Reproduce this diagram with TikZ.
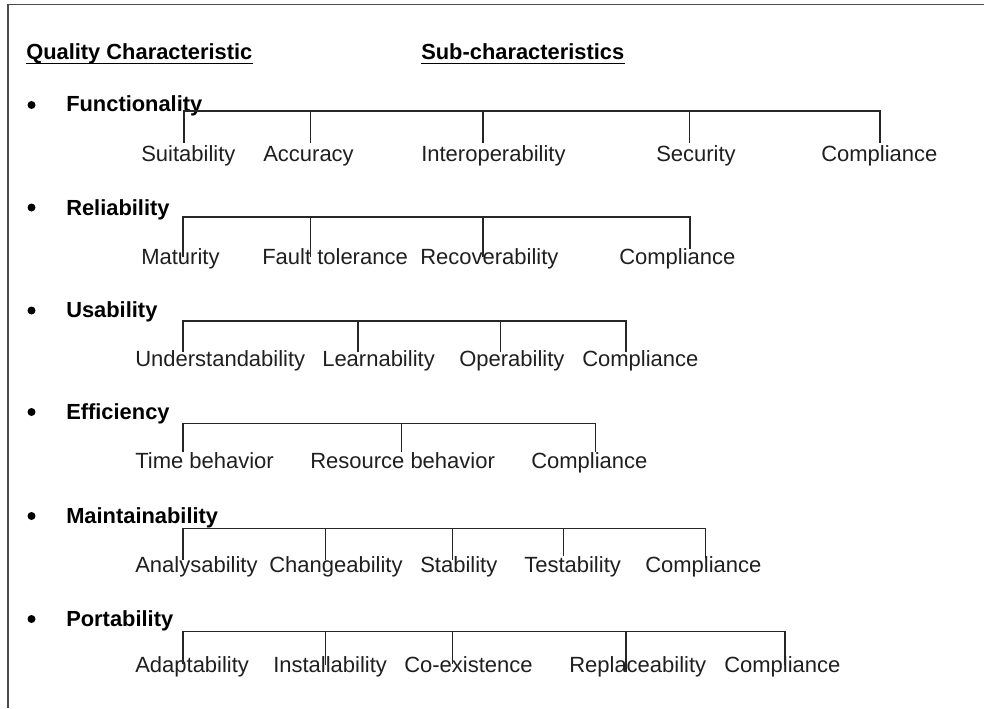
\documentclass[tikz,border=0pt]{standalone}
\usepackage{fontspec}
\setmainfont{Liberation Sans}
\begin{document}
\begin{tikzpicture}[x=0.75pt,y=-0.75pt,
  lab/.style={anchor=base west, inner sep=0pt, font=\fontsize{16.4}{19}\selectfont\bfseries},
  subc/.style={anchor=base west, inner sep=0pt, font=\fontsize{16.5}{19}\selectfont, text=black!88},
  br/.style={draw=black!85, line width=0.8pt},
  ul/.style={draw=black, line width=1.2pt},
  bul/.style={fill=black}]
\useasboundingbox (0,0) rectangle (984,708);
\draw[black!70, line width=1.2pt] (8,708) -- (8,4.5) -- (984,4.5);
% headers
\node[lab] (qc) at (26,59.5) {Quality Characteristic};
\node[lab] (sc) at (421,59.5) {Sub-characteristics};
\draw[ul] ([yshift=-3pt]qc.base west) -- ([yshift=-3pt]qc.base east);
\draw[ul] ([yshift=-3pt]sc.base west) -- ([yshift=-3pt]sc.base east);
% ---------- Row 1
\fill[bul] (31.5,105) circle[radius=3pt];
\node[lab] (f) at (66,111.5) {Functionality};
\node[subc] (f1) at (141,161.5) {Suitability};
\node[subc] (f2) at (263,161.5) {Accuracy};
\node[subc] (f3) at (421,161.5) {Interoperability};
\node[subc] (f4) at (656,161.5) {Security};
\node[subc] (f5) at (821,161.5) {Compliance};
\draw[br] (184,143) -- (184,111) -- (880,111) -- (880,143);
\draw[br] (310.7,111) -- (310.7,143);
\draw[br] (483,111) -- (483,143);
\draw[br] (689.7,111) -- (689.7,143);
% ---------- Row 2
\fill[bul] (31.5,207.5) circle[radius=3pt];
\node[lab] (r) at (66,215.5) {Reliability};
\node[subc] (r1) at (141,264.5) {Maturity};
\node[subc] (r2) at (262,264.5) {Fault tolerance};
\node[subc] (r3) at (420,264.5) {Recoverability};
\node[subc] (r4) at (619,264.5) {Compliance};
\draw[br] (183,257) -- (183,217) -- (690,217) -- (690,249);
\draw[br] (310.7,217) -- (310.7,257);
\draw[br] (483,217) -- (483,257);
% ---------- Row 3
\fill[bul] (31.5,310.5) circle[radius=3pt];
\node[lab] (u) at (66,317.5) {Usability};
\node[subc] (u1) at (135,366) {Understandability};
\node[subc] (u2) at (322,366) {Learnability};
\node[subc] (u3) at (459,366) {Operability};
\node[subc] (u4) at (582,366) {Compliance};
\draw[br] (183,352) -- (183,321) -- (626,321) -- (626,352);
\draw[br] (358,321) -- (358,352);
\draw[br] (500.7,321) -- (500.7,352);
% ---------- Row 4
\fill[bul] (31.5,412) circle[radius=3pt];
\node[lab] (e) at (66,419) {Efficiency};
\node[subc] (e1) at (135,468) {Time behavior};
\node[subc] (e2) at (310,468) {Resource behavior};
\node[subc] (e3) at (531,468) {Compliance};
\draw[br] (183,452) -- (183,423.3) -- (595.7,423.3) -- (595.7,452);
\draw[br] (401.7,423.3) -- (401.7,452);
% ---------- Row 5
\fill[bul] (31.5,516) circle[radius=3pt];
\node[lab] (m) at (66,523) {Maintainability};
\node[subc] (m1) at (135,572.5) {Analysability};
\node[subc] (m2) at (269,572.5) {Changeability};
\node[subc] (m3) at (420,572.5) {Stability};
\node[subc] (m4) at (524,572.5) {Testability};
\node[subc] (m5) at (645,572.5) {Compliance};
\draw[br] (183,560) -- (183,528.3) -- (705.7,528.3) -- (705.7,558);
\draw[br] (325.7,528.3) -- (325.7,560);
\draw[br] (452.7,528.3) -- (452.7,560);
\draw[br] (563.3,528.3) -- (563.3,556);
% ---------- Row 6
\fill[bul] (31.5,619) circle[radius=3pt];
\node[lab] (p) at (66,626) {Portability};
\node[subc] (p1) at (135,672.5) {Adaptability};
\node[subc] (p2) at (273,672.5) {Installability};
\node[subc] (p3) at (404,672.5) {Co-existence};
\node[subc] (p4) at (569,672.5) {Replaceability};
\node[subc] (p5) at (724,672.5) {Compliance};
\draw[br] (183,664) -- (183,631.7) -- (785,631.7) -- (785,665);
\draw[br] (325.7,631.7) -- (325.7,665);
\draw[br] (452.7,631.7) -- (452.7,664);
\draw[br] (626,631.7) -- (626,672);
\end{tikzpicture}
\end{document}
